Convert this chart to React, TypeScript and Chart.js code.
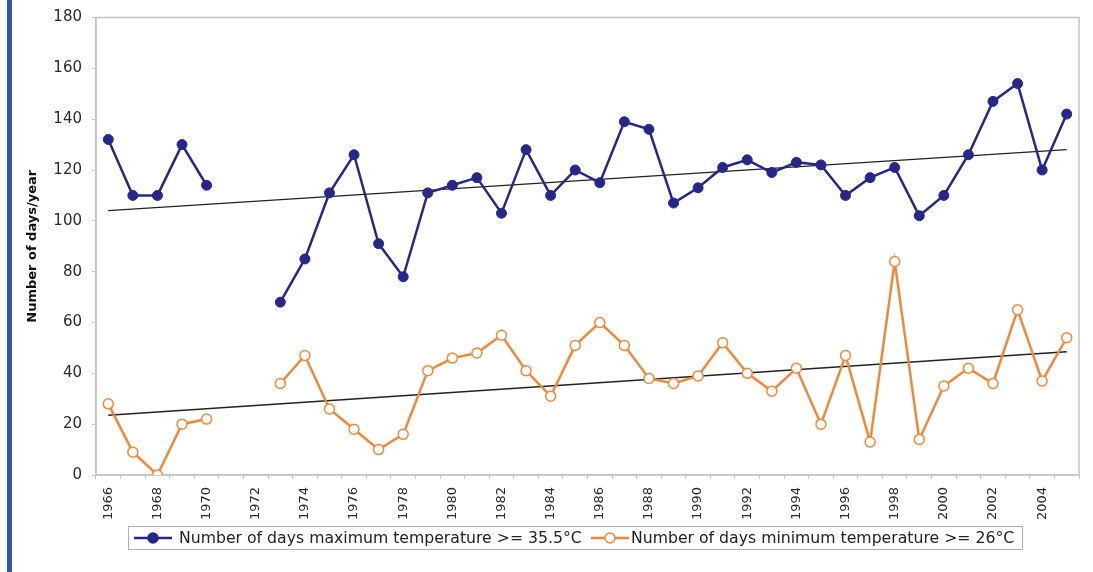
import React, { useEffect, useRef } from "react";
import { Chart, registerables } from "chart.js";

Chart.register(...registerables);

const years: number[] = [
  1966, 1967, 1968, 1969, 1970, 1971, 1972, 1973, 1974, 1975,
  1976, 1977, 1978, 1979, 1980, 1981, 1982, 1983, 1984, 1985,
  1986, 1987, 1988, 1989, 1990, 1991, 1992, 1993, 1994, 1995,
  1996, 1997, 1998, 1999, 2000, 2001, 2002, 2003, 2004, 2005,
];

const maxTempDays: (number | null)[] = [
  132, 110, 110, 130, 114, null, null, 68, 85, 111,
  126, 91, 78, 111, 114, 117, 103, 128, 110, 120,
  115, 139, 136, 107, 113, 121, 124, 119, 123, 122,
  110, 117, 121, 102, 110, 126, 147, 154, 120, 142,
];

const minTempDays: (number | null)[] = [
  28, 9, 0, 20, 22, null, null, 36, 47, 26,
  18, 10, 16, 41, 46, 48, 55, 41, 31, 51,
  60, 51, 38, 36, 39, 52, 40, 33, 42, 20,
  47, 13, 84, 14, 35, 42, 36, 65, 37, 54,
];

// trend line end values (first year, last year)
const maxTrendEnds: number[] = [104, 128];
const minTrendEnds: number[] = [23.5, 48.5];

const yTicks: number[] = [0, 20, 40, 60, 80, 100, 120, 140, 160, 180];

const seriesNames: string[] = [
  "Number of days maximum temperature >= 35.5°C",
  "Number of days minimum temperature >= 26°C",
];
const yTitle = "Number of days/year";

const BLUE = "#27278a";
const ORANGE = "#f0883a";
const FONT = "'DejaVu Sans', 'Liberation Sans', Arial, sans-serif";

const endsToSeries = (ends: number[]) =>
  years.map((_, i) => (i === 0 ? ends[0] : i === years.length - 1 ? ends[1] : null));

const borderPlugin = {
  id: "plotBorder",
  beforeDatasetsDraw(chart: any) {
    const { ctx, chartArea } = chart;
    ctx.save();
    ctx.strokeStyle = "#c4c4c4";
    ctx.lineWidth = 1.5;
    ctx.strokeRect(chartArea.left, chartArea.top, chartArea.right - chartArea.left, chartArea.bottom - chartArea.top);
    ctx.restore();
  },
};

function Marker({ color, filled }: { color: string; filled: boolean }) {
  return (
    <svg width={40} height={22} style={{ position: "absolute", top: 0 }}>
      <line x1={1} y1={11} x2={39} y2={11} stroke={color} strokeWidth={2.5} />
      <circle cx={20} cy={11} r={5} fill={filled ? color : "#ffffff"} stroke={color} strokeWidth={1.5} />
    </svg>
  );
}

export default function App() {
  const canvasRef = useRef<HTMLCanvasElement | null>(null);

  useEffect(() => {
    const canvas = canvasRef.current;
    if (!canvas) return;
    const chart = new Chart(canvas, {
      type: "line",
      data: {
        labels: years.map(String),
        datasets: [
          {
            label: seriesNames[0],
            data: maxTempDays,
            borderColor: BLUE,
            backgroundColor: BLUE,
            borderWidth: 2.5,
            pointRadius: 5,
            pointBackgroundColor: BLUE,
            pointBorderColor: BLUE,
            pointBorderWidth: 1,
            spanGaps: false,
            tension: 0,
            order: 1,
          },
          {
            label: seriesNames[1],
            data: minTempDays,
            borderColor: ORANGE,
            backgroundColor: "#ffffff",
            borderWidth: 2.5,
            pointRadius: 5,
            pointBackgroundColor: "#ffffff",
            pointBorderColor: ORANGE,
            pointBorderWidth: 1.5,
            spanGaps: false,
            tension: 0,
            order: 2,
          },
          {
            label: "trend max",
            data: endsToSeries(maxTrendEnds),
            borderColor: "#222222",
            borderWidth: 1.3,
            pointRadius: 0,
            spanGaps: true,
            order: 3,
          },
          {
            label: "trend min",
            data: endsToSeries(minTrendEnds),
            borderColor: "#222222",
            borderWidth: 1.3,
            pointRadius: 0,
            spanGaps: true,
            order: 4,
          },
        ],
      },
      options: {
        responsive: false,
        animation: false,
        devicePixelRatio: 1,
        layout: { padding: { top: 15, right: 14, bottom: 47, left: 0 } },
        plugins: {
          legend: { display: false },
          tooltip: { enabled: false },
        },
        scales: {
          x: {
            type: "category",
            offset: true,
            grid: {
              offset: true,
              drawOnChartArea: false,
              drawTicks: true,
              tickLength: 4,
              color: "#c4c4c4",
            },
            border: { color: "#c4c4c4", width: 1.5 },
            ticks: {
              autoSkip: false,
              maxRotation: 90,
              minRotation: 90,
              padding: 8,
              color: "#2a2a2a",
              font: { family: FONT, size: 13 },
              callback: (_v: any, i: number) => (years[i] % 2 === 0 ? String(years[i]) : ""),
            },
            afterFit: (scale: any) => {
              scale.height = 50;
            },
          },
          y: {
            min: 0,
            max: 180,
            afterBuildTicks: (scale: any) => {
              scale.ticks = yTicks.map((v) => ({ value: v }));
            },
            grid: {
              drawOnChartArea: false,
              drawTicks: true,
              tickLength: 4,
              color: "#c4c4c4",
            },
            border: { color: "#c4c4c4", width: 1.5 },
            ticks: {
              padding: 10,
              color: "#2a2a2a",
              font: { family: FONT, size: 15, lineHeight: 1 },
            },
            title: {
              display: true,
              text: yTitle,
              color: "#111111",
              font: { family: FONT, size: 13, weight: "bold" },
              padding: { top: 25, bottom: 0 },
            },
            afterFit: (scale: any) => {
              scale.width = 96;
            },
          },
        },
      },
      plugins: [borderPlugin],
    });
    return () => chart.destroy();
  }, []);

  return (
    <div
      style={{
        position: "fixed",
        left: 0,
        top: 0,
        width: 1093,
        height: 572,
        background: "#ffffff",
        overflow: "hidden",
      }}
    >
      <canvas ref={canvasRef} width={1093} height={572} style={{ position: "absolute", left: 0, top: 0, width: 1093, height: 572 }} />
      <div style={{ position: "absolute", left: 7, top: 0, width: 5, height: 572, background: "#2c5c9e" }} />
      <div
        style={{
          position: "absolute",
          left: 128,
          top: 526,
          width: 895,
          height: 24,
          border: "1px solid #b0b0b0",
          boxSizing: "border-box",
          fontFamily: FONT,
          fontSize: 15.7,
          color: "#222222",
          whiteSpace: "nowrap",
        }}
      >
        <div style={{ position: "absolute", left: 4, top: 0 }}>
          <Marker color={BLUE} filled={true} />
        </div>
        <span style={{ position: "absolute", left: 50, top: 2, lineHeight: "18px" }}>{seriesNames[0]}</span>
        <div style={{ position: "absolute", left: 461, top: 0 }}>
          <Marker color={ORANGE} filled={false} />
        </div>
        <span style={{ position: "absolute", left: 502, top: 2, lineHeight: "18px" }}>{seriesNames[1]}</span>
      </div>
    </div>
  );
}
